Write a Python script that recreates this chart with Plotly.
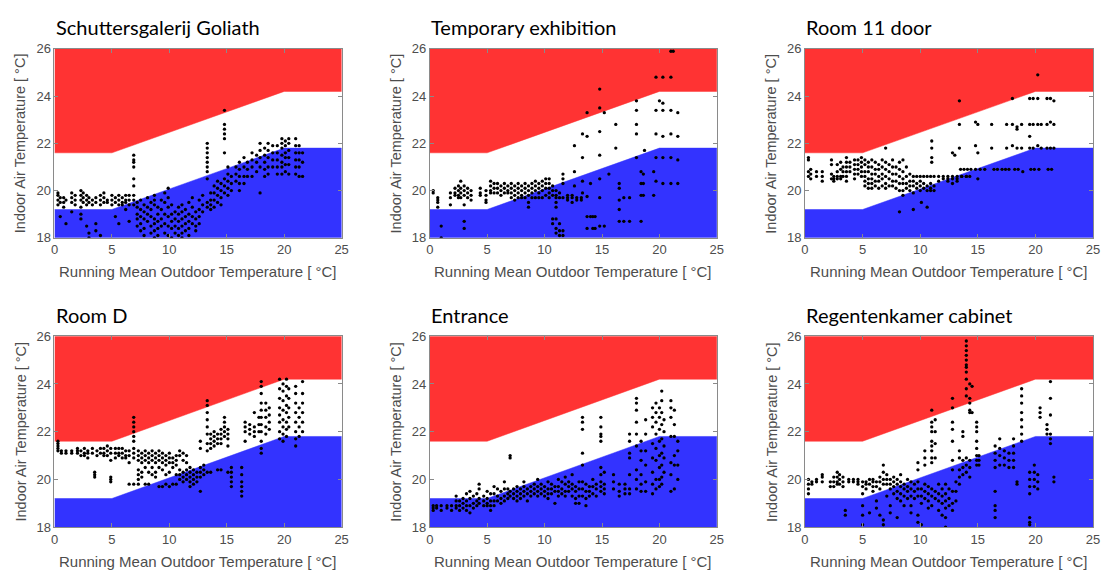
import plotly.graph_objects as go

# ---- comfort band limits (adaptive) ----
LIMIT_X = [0, 5, 20, 25]
UPPER = [21.6, 21.6, 24.2, 24.2]
LOWER = [19.2, 19.2, 21.8, 21.8]
X_TICKS = [0, 5, 10, 15, 20, 25]
Y_TICKS = [18, 20, 22, 24, 26]
TITLES = ["Schuttersgalerij Goliath", "Temporary exhibition", "Room 11 door",
          "Room D", "Entrance", "Regentenkamer cabinet"]
X_LABEL = "Running Mean Outdoor Temperature [ °C]"
Y_LABEL = "Indoor Air Temperature [ °C]"

# ---- measured points, as (running mean outdoor T, [indoor T values]) ----
goliath = [
    (0.3, [19.4, 19.6, 19.8, 19.9]), (0.5, [19.5, 19.7, 18.9]), (0.8, [19.3, 19.5, 19.7]),
    (1.0, [18.6, 19.6]), (1.5, [19.5, 19.7, 19.9, 19.1]), (1.8, [19.4, 19.6, 19.8]),
    (2.3, [19.6, 19.8, 20.0, 19.3, 19.0, 18.8]), (2.5, [19.5, 19.7, 19.9]),
    (2.8, [19.4, 19.6, 19.8, 18.5]), (3.0, [19.5, 19.7, 18.2, 18.0]), (3.3, [19.4, 19.6]),
    (3.6, [19.5, 19.7, 18.6, 18.3]), (4.0, [19.4, 19.6, 19.8, 18.1]), (4.3, [19.5, 19.7, 19.9]),
    (4.6, [19.5, 19.6]), (5.0, [19.4, 19.6, 19.8]), (5.3, [19.5, 19.7, 18.9]),
    (5.6, [19.4, 19.6, 19.8, 18.6]), (5.9, [19.5, 19.7, 19.4]), (6.2, [19.5, 19.6, 19.8, 19.2]),
    (6.5, [19.4, 19.6, 19.8, 18.7]),
    (6.9, [21.5, 21.3, 21.2, 21.0, 20.5, 20.2, 19.8, 19.6, 19.4]),
    (7.2, [19.5, 19.3, 19.0, 18.8, 18.5]), (7.5, [19.6, 19.2, 18.9, 18.6, 18.3]),
    (7.8, [19.4, 19.1, 18.8, 18.4, 18.1]), (8.1, [19.7, 19.3, 19.0, 18.7]),
    (8.4, [19.5, 19.2, 18.9, 18.5, 18.2]), (8.7, [19.8, 19.6, 19.4, 18.8, 18.6, 18.3, 18.0]),
    (9.0, [19.3, 19.0, 18.7, 18.4, 18.1]), (9.3, [19.6, 19.2, 18.8, 18.5]),
    (9.6, [19.9, 19.5, 19.0, 18.6, 18.2]), (9.9, [20.1, 19.7, 19.3, 18.9, 18.5, 18.1]),
    (10.2, [19.4, 19.0, 18.7, 18.4, 18.0]), (10.5, [19.1, 18.8, 18.5, 18.2]),
    (10.8, [19.3, 19.0, 18.7, 18.4, 18.1]), (11.1, [19.4, 19.1, 18.8, 18.5, 18.2, 18.0]),
    (11.4, [19.2, 18.9, 18.6, 18.3]), (11.7, [19.5, 19.0, 18.7, 18.4, 18.1]),
    (12.0, [19.7, 19.3, 18.9, 18.6]), (12.3, [19.1, 18.8, 18.5, 18.3]),
    (12.6, [19.6, 19.2, 18.9, 18.6]), (12.9, [19.8, 19.4, 19.1]),
    (13.3, [22.0, 21.8, 21.6, 21.4, 21.2, 21.0, 20.8, 20.5, 19.5, 19.3]),
    (13.6, [19.6, 19.4, 19.2, 19.9]), (13.9, [20.2, 19.9, 19.6, 19.3]),
    (14.2, [20.4, 20.1, 19.8, 19.5]), (14.5, [20.3, 20.0, 19.7, 19.4]),
    (14.8, [23.4, 22.8, 22.6, 22.4, 22.2, 21.6, 20.5, 20.2, 19.9]),
    (15.1, [21.0, 20.7, 20.4, 20.1, 19.8]), (15.4, [20.6, 20.3, 20.0]),
    (15.8, [21.0, 20.7, 20.4]), (16.1, [21.2, 20.9, 20.6, 20.3, 20.0]),
    (16.5, [21.4, 21.0, 20.6, 20.3]), (16.8, [21.2, 20.9, 20.6]),
    (17.2, [21.6, 21.3, 21.0, 20.6]), (17.6, [21.5, 21.2, 20.8]),
    (17.9, [22.0, 21.7, 21.4, 21.0, 19.9]), (18.3, [21.8, 21.5, 21.2, 20.9, 20.6]),
    (18.6, [22.0, 21.7, 21.4, 21.0, 20.7]), (19.0, [21.9, 21.6, 21.3, 21.0]),
    (19.4, [21.9, 21.6, 21.3, 21.0, 20.7]), (19.8, [22.2, 22.0, 21.8, 21.5, 21.2, 21.0, 20.7]),
    (20.1, [22.1, 21.9, 21.6, 21.4, 21.1, 20.8]), (20.4, [22.2, 22.0, 21.7, 21.4, 21.1, 20.7]),
    (21.0, [22.2, 21.9, 21.6, 21.3, 21.0, 20.7]), (21.3, [21.9, 21.6, 21.3, 21.0, 20.6]),
    (21.6, [21.6, 21.2, 20.6]),
]

temporary = [
    (0.3, [20.0, 19.9]), (0.7, [19.7, 19.6, 19.5, 19.3]), (1.0, [18.5, 18.0]),
    (1.8, [19.9, 19.7, 19.4]), (2.2, [20.1, 19.9, 19.8]), (2.5, [20.2, 20.0, 19.8, 19.7]),
    (2.7, [20.4, 20.1, 19.9, 19.7]), (3.0, [20.2, 20.0, 19.8, 19.4, 18.7, 18.4]),
    (3.3, [20.1, 19.9, 19.7]), (3.6, [20.0, 19.8, 19.6]), (4.4, [20.1, 19.9, 19.8]),
    (4.9, [20.0, 19.8, 19.6, 19.5]), (5.3, [20.4, 20.2, 20.0, 19.9]), (5.6, [20.3, 20.1, 19.9]),
    (5.9, [20.3, 20.1, 19.9]), (6.2, [20.2, 20.0, 19.8]), (6.5, [20.3, 20.1, 19.9]),
    (6.8, [20.2, 20.0, 19.9]), (7.1, [20.3, 20.1, 19.9, 19.7]), (7.4, [20.2, 20.0, 19.8, 19.6]),
    (7.7, [20.3, 20.1, 19.9, 19.7]), (8.0, [20.2, 20.0, 19.8, 19.7]),
    (8.3, [20.3, 20.1, 19.9, 19.7]), (8.6, [20.2, 20.0, 19.8, 19.5, 19.3]),
    (8.9, [20.3, 20.1, 19.9, 19.7]), (9.2, [20.4, 20.2, 20.0, 19.7]),
    (9.5, [20.3, 20.1, 19.9, 19.7]), (9.8, [20.4, 20.2, 20.0, 19.7]),
    (10.1, [20.5, 20.3, 20.1, 19.8]), (10.4, [20.5, 20.3, 20.1, 19.9, 19.7]),
    (10.7, [20.2, 20.0, 19.8, 18.8, 18.6]), (11.0, [20.0, 19.8, 19.7, 19.5, 19.3, 18.8, 18.4, 18.2]),
    (11.3, [19.9, 19.7, 18.6, 18.3, 18.1]), (11.6, [20.7, 20.5, 20.3, 19.7, 18.3, 18.1]),
    (12.0, [19.8, 19.7, 19.6]), (12.4, [19.8, 19.7, 19.5]), (12.8, [19.7, 19.6]),
    (13.2, [19.7, 19.6]),
    (12.6, [21.9, 20.8, 20.2]), (13.3, [22.4, 21.4, 20.4, 19.9]),
    (13.7, [23.3, 22.3, 19.75, 18.9, 18.4]), (14.0, [20.3, 18.9]), (14.2, [18.9, 18.4]),
    (14.4, [18.9, 18.4]), (14.8, [24.3, 23.5, 22.5, 21.5, 20.5, 19.7, 18.5]),
    (15.2, [23.3, 18.5]), (15.6, [20.7]), (16.2, [22.8, 21.8]),
    (16.5, [20.3, 20.1, 19.6, 19.2, 18.7]), (16.9, [19.7, 18.7]), (17.4, [19.7, 18.7]),
    (18.0, [23.8, 23.4, 22.8, 22.4, 21.4]), (18.4, [20.8, 20.3, 19.8, 18.7]),
    (18.6, [20.7, 20.3, 19.8]), (18.7, [21.7]), (19.5, [20.8, 19.8]),
    (19.7, [24.8, 23.4, 22.4, 21.4, 20.4]), (20.0, [23.8]),
    (20.3, [24.8, 23.7, 23.4, 22.3, 21.4, 20.3]), (21.0, [25.9, 24.8, 23.4, 22.4, 21.4, 20.3]),
    (21.2, [25.9]), (21.6, [23.3, 22.3, 21.3, 20.3]),
]

room11 = [
    (0.3, [21.4, 21.3, 20.8, 20.6]), (0.5, [20.9, 20.7, 20.5]), (1.0, [20.8, 20.6]),
    (1.5, [20.6, 20.4, 20.8]), (2.3, [21.3, 21.1, 20.7, 20.5]), (2.5, [20.6, 20.5, 20.4]),
    (2.8, [20.8, 20.6, 20.5, 21.1]), (3.1, [21.2, 20.9, 20.6, 20.5]), (3.3, [21.0, 20.8, 20.6]),
    (3.6, [21.4, 21.2, 21.0, 20.8, 20.6, 20.4]), (3.9, [21.2, 21.0, 20.8]),
    (4.3, [21.3, 21.1, 20.9, 20.7, 20.5]), (4.6, [21.3, 21.1, 20.9, 20.7]),
    (4.9, [21.4, 21.2, 21.0, 20.8, 20.6]), (5.2, [21.3, 21.1, 20.8, 20.6, 20.4, 20.2]),
    (5.5, [21.2, 21.0, 20.8, 20.5, 20.3, 20.1]), (5.8, [21.3, 21.0, 20.7, 20.5, 20.3, 20.1]),
    (6.1, [21.2, 20.9, 20.7, 20.4, 20.2]), (6.4, [21.1, 20.9, 20.6, 20.4, 20.1]),
    (6.7, [21.3, 21.0, 20.7, 20.5, 20.2]), (7.0, [21.8, 21.2, 20.9, 20.6, 20.3, 20.1]),
    (7.3, [21.1, 20.8, 20.5, 20.2]), (7.6, [21.3, 21.0, 20.7, 20.4, 20.2]),
    (7.9, [21.0, 20.7, 20.4, 20.1]), (8.2, [21.2, 20.9, 20.6, 20.3, 20.0, 19.1]),
    (8.5, [21.3, 20.8, 20.5, 20.3, 20.0, 19.8]), (8.8, [21.0, 20.6, 20.3, 20.1]),
    (9.1, [20.7, 20.4, 20.2, 20.0]), (9.4, [20.6, 20.4, 20.2, 19.9, 19.2]),
    (9.7, [20.6, 20.3, 20.1]), (10.0, [20.6, 20.4, 20.2, 20.0]), (10.1, [19.5]),
    (10.3, [20.6, 20.3, 20.1]), (10.6, [20.6, 20.2, 20.0, 19.3]),
    (10.9, [20.6, 20.3, 20.1, 20.0]), (11.0, [22.1, 21.8, 21.4, 21.2]),
    (11.2, [20.6, 20.2, 20.0]), (11.6, [20.6, 20.4]), (12.0, [20.6, 20.5]),
    (12.4, [20.6, 20.5, 20.4]), (12.8, [20.6, 20.5, 20.3, 21.6]), (13.0, [21.5]),
    (13.2, [20.6, 20.5, 20.4]), (13.6, [20.6, 20.6]), (14.0, [20.6, 20.6]), (14.3, [20.6]),
    (13.4, [23.8, 22.8, 21.8]), (14.8, [22.9, 21.9]), (15.0, [22.8, 21.6, 20.5]),
    (16.2, [22.8, 21.8]), (17.5, [22.8, 21.8]), (18.0, [23.9, 22.8, 21.9]),
    (18.4, [22.7, 22.6, 21.8]), (18.8, [22.8, 21.8]), (19.5, [23.9, 22.8, 22.3, 21.8]),
    (19.8, [23.9, 22.8, 21.8]), (20.2, [24.9, 23.9, 22.8, 21.9]), (20.5, [22.8, 21.8]),
    (21.0, [23.9, 22.8, 21.8]), (21.3, [23.9, 22.9, 21.8]), (21.6, [23.8, 22.8, 21.8]),
    (13.5, [20.9]), (13.8, [20.9]), (14.1, [20.9]), (14.4, [20.9]), (14.8, [20.9]),
    (15.2, [20.9]), (15.6, [20.9]), (16.4, [20.9]), (16.7, [20.9]), (17.1, [20.9]),
    (17.4, [20.9]), (17.7, [20.9]), (18.2, [20.9]), (18.5, [20.9]), (18.9, [20.8]),
    (19.6, [20.9]), (19.9, [20.9]), (20.3, [20.9]), (21.1, [20.9]), (21.4, [20.9]),
]

room_d = [
    (0.3, [21.6, 21.5, 21.4, 21.3, 21.2]), (0.6, [21.2, 21.1]), (1.0, [21.2, 21.1]),
    (1.5, [21.2, 21.1]), (2.0, [21.3, 21.2, 21.1]), (2.3, [21.2, 21.0]),
    (2.6, [21.3, 21.1, 21.0]), (2.9, [21.2, 21.1, 20.9]), (3.3, [21.3, 21.1]),
    (3.5, [20.3, 20.2, 20.1]), (3.7, [21.2, 21.0]), (4.0, [21.3, 21.1]),
    (4.3, [21.3, 21.1, 21.0]), (4.6, [21.4, 21.2, 21.0]),
    (4.9, [21.3, 21.1, 20.8, 20.1, 20.0, 19.9]), (5.3, [21.3, 21.1, 20.9]),
    (5.6, [21.3, 21.1, 21.0]), (5.9, [21.3, 21.1, 20.9]), (6.2, [21.2, 21.0, 20.9]),
    (6.5, [21.2, 21.0, 20.7, 19.8]),
    (6.9, [22.6, 22.4, 22.2, 22.0, 21.8, 21.6, 21.3, 21.1, 20.9, 19.8]),
    (7.3, [21.2, 21.0, 20.8, 20.4, 20.2, 20.0, 19.8]), (7.6, [21.1, 20.9, 20.7, 20.3, 20.1]),
    (7.9, [21.2, 21.0, 20.8, 20.5, 19.8]), (8.2, [21.1, 20.9, 20.7, 20.3, 19.8]),
    (8.5, [21.2, 21.0, 20.8, 20.5, 20.2]), (8.8, [21.1, 20.9, 20.7, 20.3, 20.1]),
    (9.1, [21.2, 21.0, 20.8, 20.5, 19.7]), (9.4, [21.1, 20.9, 20.7, 20.4, 19.7]),
    (9.7, [21.0, 20.8, 20.6, 20.2, 19.8]), (10.0, [21.1, 20.9, 20.7, 20.3, 19.7]),
    (10.3, [20.9, 20.7, 20.5, 19.8]), (10.6, [21.0, 20.8, 20.6, 20.2, 19.8]),
    (10.9, [21.2, 21.0, 20.4, 20.2, 20.0]), (11.2, [21.1, 20.8, 20.3, 20.1, 19.9]),
    (11.5, [21.0, 20.7, 20.4, 20.2, 20.0]), (11.8, [20.5, 20.3, 20.1, 19.9, 19.7]),
    (12.1, [20.4, 20.2, 20.0, 19.8]), (12.4, [20.3, 20.1, 19.9]),
    (12.7, [21.6, 21.3, 20.5, 20.3, 20.1, 19.5]), (13.0, [20.4, 20.2, 20.6]),
    (13.3, [23.3, 23.1, 22.8, 22.5, 22.2, 21.9, 21.5, 21.2, 20.3]),
    (13.6, [21.9, 21.7, 21.5, 21.3, 20.3]), (13.9, [22.0, 21.8, 21.6, 21.4]),
    (14.2, [21.9, 21.7, 21.5, 20.4]), (14.5, [22.1, 21.9, 21.7, 21.5, 20.4]),
    (14.8, [22.6, 22.4, 22.2, 22.0, 21.8]), (15.1, [22.1, 21.9, 21.7, 21.4, 20.3]),
    (15.4, [20.5, 20.3, 20.1, 19.9, 19.7]), (16.3, [20.5, 20.2, 19.9, 19.7, 19.5, 19.3]),
    (16.6, [22.4, 22.2, 22.0, 21.6]), (17.0, [22.3, 22.1, 21.9]),
    (17.4, [22.2, 22.0, 21.8, 22.8]), (17.8, [22.6, 22.3, 22.0]),
    (18.0, [24.1, 23.9, 23.6, 23.2, 22.9, 22.6, 22.3, 22.0, 21.6, 21.3, 21.1]),
    (18.4, [23.2, 22.9, 22.6, 22.2, 21.9]), (18.7, [23.0, 22.7, 22.4, 22.1]),
    (19.6, [24.2, 23.8, 23.4, 23.0, 22.7, 22.4, 22.0, 21.7]),
    (19.9, [24.0, 23.7, 23.3, 22.9, 22.5, 22.2, 21.9, 21.6]),
    (20.2, [24.2, 23.9, 23.5, 23.1, 22.8, 22.4, 22.1, 21.8]),
    (20.4, [23.8, 23.4, 23.0, 22.6, 22.2]),
    (21.0, [23.9, 23.6, 23.2, 22.8, 22.4, 22.0, 21.7, 21.4]),
    (21.3, [23.0, 22.6, 22.2, 21.8]), (21.6, [24.1, 23.6, 23.2, 22.8, 22.4, 22.0]),
]

entrance = [
    (0.3, [18.9, 18.8, 18.7]), (0.6, [18.9, 18.8]), (1.0, [18.9, 18.7]), (1.5, [18.9, 18.8]),
    (1.9, [18.9, 18.7]), (2.3, [19.3, 19.1, 18.9, 18.8]), (2.6, [19.1, 18.9, 18.7]),
    (2.9, [19.2, 19.0, 18.8]), (3.2, [19.4, 19.1, 18.9, 18.7]), (3.5, [19.5, 19.2, 18.9, 18.6]),
    (3.8, [19.3, 19.0, 18.8]), (4.1, [19.4, 19.1, 18.9]), (4.3, [19.8, 19.6, 19.2, 19.0]),
    (4.7, [19.3, 19.1, 18.9]), (5.0, [19.5, 19.2, 19.0, 18.9]), (5.3, [19.4, 19.1, 18.9, 18.7]),
    (5.6, [19.7, 19.4, 19.1, 18.9]), (5.9, [19.6, 19.3, 19.1]), (6.2, [19.5, 19.2, 19.0]),
    (6.5, [19.9, 19.6, 19.3, 19.1]), (6.8, [19.6, 19.4, 19.2]), (7.0, [21.0, 20.9, 19.5, 19.3]),
    (7.3, [19.6, 19.4, 19.2]), (7.6, [19.7, 19.5, 19.3, 19.1]), (7.9, [19.6, 19.4, 19.2]),
    (8.2, [19.9, 19.7, 19.5, 19.3]), (8.5, [19.6, 19.4, 19.1]), (8.8, [19.7, 19.5, 19.3]),
    (9.1, [19.8, 19.6, 19.4]), (9.4, [20.0, 19.7, 19.5, 19.3]), (9.7, [19.8, 19.6, 19.4]),
    (10.0, [19.7, 19.5, 19.3]), (10.3, [19.9, 19.6, 19.4, 19.2]), (10.6, [19.8, 19.6, 19.4]),
    (10.9, [19.7, 19.5, 19.0]), (11.2, [20.0, 19.7, 19.5, 19.3]), (11.5, [19.9, 19.6, 19.4]),
    (11.8, [20.1, 19.8, 19.5, 19.3]), (12.1, [19.9, 19.7, 19.5]),
    (12.4, [20.2, 19.8, 19.6, 19.3]), (12.7, [19.7, 19.5, 19.2, 19.0]),
    (13.0, [19.9, 19.6, 19.3, 19.0]), (13.3, [22.6, 22.4, 22.1, 21.1, 20.6, 19.9, 19.6, 19.3]),
    (13.6, [19.8, 19.5, 19.2, 18.9]), (13.9, [19.7, 19.5, 19.3]), (14.2, [20.0, 19.7, 19.4]),
    (14.5, [19.8, 19.6, 19.3]),
    (14.9, [22.6, 22.2, 21.9, 21.8, 21.6, 20.5, 20.2, 19.9, 19.7, 19.5]),
    (15.2, [20.3, 19.8, 19.6, 19.4]), (16.0, [20.2, 19.9, 19.6]), (16.5, [19.8, 19.5, 19.3]),
    (17.0, [19.8, 19.6, 19.4]), (17.4, [21.9, 21.6, 21.1, 20.9, 20.2, 19.6, 19.4]),
    (18.0, [23.4, 23.2, 22.9, 22.4, 21.9, 21.4, 20.4, 20.0, 19.6]),
    (18.4, [21.6, 21.2, 20.8, 20.2, 19.8, 19.5]), (18.8, [22.5, 21.9, 21.2, 20.6, 19.9, 19.5]),
    (19.4, [23.0, 22.6, 22.2, 21.5, 20.9, 20.3, 19.8, 19.4]),
    (19.7, [23.2, 22.8, 22.4, 21.9, 21.3, 20.8, 20.0, 19.6]),
    (20.0, [23.0, 22.6, 22.1, 21.6, 21.0, 20.5, 20.0, 19.7]),
    (20.2, [23.7, 23.3, 22.8, 22.3, 21.7, 21.1, 20.6, 20.1, 19.8]),
    (20.4, [22.5, 22.0, 21.4, 20.9, 20.3]), (21.0, [23.3, 23.0, 22.6, 21.8, 20.7, 20.2, 19.5]),
    (21.3, [22.9, 22.3, 21.8, 21.0, 20.6, 19.6]), (21.6, [21.6, 21.2, 20.6, 20.0]),
]

regenten = [
    (0.3, [20.0, 19.8, 19.6, 19.4]), (0.6, [19.9, 19.8]), (1.0, [19.9, 20.0]),
    (1.5, [19.9, 20.1, 20.2]), (2.2, [19.9, 19.7]), (2.5, [20.1, 19.9, 19.7]),
    (2.8, [20.3, 20.1, 19.9, 19.8]), (3.0, [20.2, 20.0, 19.8]), (3.3, [20.1, 19.9, 19.7]),
    (3.5, [18.7, 18.5]), (3.8, [20.0, 19.9]), (4.2, [19.9, 20.0]), (4.6, [20.0, 19.9, 19.8]),
    (5.0, [19.9, 19.7, 19.4, 18.9, 18.5, 18.1]), (5.3, [19.9, 19.8, 19.6]),
    (5.6, [20.0, 19.8, 18.6]), (5.9, [20.0, 19.9, 19.7, 19.5]), (6.2, [19.9, 19.7, 19.1, 18.8]),
    (6.5, [20.1, 19.9, 19.6, 18.5]), (6.8, [20.6, 20.3, 20.0, 19.8, 18.3, 18.1]),
    (7.1, [20.2, 20.0, 19.8, 19.3]), (7.4, [20.0, 19.8, 19.6, 18.9, 18.6]),
    (7.7, [20.1, 19.9, 19.7, 19.4]), (8.0, [20.0, 19.8, 19.5, 19.2, 18.4]),
    (8.3, [20.2, 19.9, 19.7, 19.4, 19.1]), (8.6, [19.8, 19.6, 19.3, 18.9]),
    (8.9, [20.0, 19.7, 19.5, 19.2]), (9.2, [19.9, 19.6, 19.3, 18.9, 18.6]),
    (9.5, [19.8, 19.5, 19.2]), (9.8, [20.7, 20.4, 19.9, 19.6, 19.3, 18.5, 18.2]),
    (10.1, [19.6, 19.3, 19.0, 18.1]), (10.4, [21.2, 20.9, 20.6, 19.8, 19.5, 19.2]),
    (10.7, [19.7, 19.4, 19.1, 18.8]),
    (11.0, [22.9, 22.4, 22.2, 22.0, 21.6, 21.4, 21.2, 20.9, 20.7, 19.6, 19.3, 18.9]),
    (11.3, [22.5, 22.0, 21.5, 20.9, 19.5, 19.2]), (11.6, [19.8, 19.4, 19.1, 18.7]),
    (11.9, [19.6, 19.3, 19.0, 18.5]), (12.2, [19.8, 19.4, 19.1, 18.8, 18.4, 18.0]),
    (12.5, [19.6, 19.2, 18.9]),
    (12.8, [23.4, 23.0, 22.4, 22.1, 21.6, 20.8, 20.4, 19.5, 19.0, 18.7]),
    (13.1, [19.9, 19.5, 19.1]), (13.4, [21.2, 20.9, 20.4, 20.1, 19.8]),
    (13.7, [22.0, 21.8, 20.8, 20.5, 20.2]),
    (14.0, [25.8, 25.6, 25.4, 25.2, 25.0, 24.8, 24.7, 24.5, 24.2, 23.8, 23.5, 20.9, 20.6, 20.3]),
    (14.3, [24.0, 23.4, 23.2, 22.9, 22.8, 20.8, 20.5, 20.1]), (14.5, [23.9, 22.8]),
    (14.9, [22.4, 22.2, 22.0, 21.6, 21.3, 21.0, 20.8, 20.6]), (15.1, [21.0, 20.8, 20.6]),
    (16.5, [21.4, 21.1, 20.8, 20.5, 19.5, 18.9, 18.7, 18.4]), (16.9, [21.7, 21.3, 21.0, 20.6]),
    (17.3, [21.2, 20.9, 20.6]), (17.7, [21.1, 20.8, 20.5]), (18.1, [21.7, 21.4, 21.1, 20.8, 20.5]),
    (18.4, [19.8, 19.9]), (18.8, [23.8, 23.5, 23.2, 22.8, 22.5, 22.2, 21.9, 21.6]),
    (19.5, [20.3, 20.0, 19.7, 19.4, 18.4, 18.2, 18.1]), (19.9, [20.6, 20.3, 20.0, 19.7]),
    (20.2, [20.2, 19.9, 19.6]), (20.4, [23.0, 22.8, 22.6]), (21.0, [22.3, 22.1, 21.9]),
    (21.3, [24.1, 23.4, 22.7, 21.9, 21.7, 21.5]), (21.6, [20.1, 19.9]),
]

PANELS = [goliath, temporary, room11, room_d, entrance, regenten]

RED = "#ff3333"
BLUE = "#3333ff"
W, H = 1109, 578
LEFTS = [51, 430, 809]            # target screen pixels
RIGHTS = [341, 720, 1100]
TOPS = [43, 338]
BOTTOMS = [237, 534]


def px(v):
    return v / W


def py(v):
    return 1 - v / H


fig = go.Figure()
annotations = []
label_font = "Liberation Sans, Arial, sans-serif"
axis_font = dict(family=label_font, size=13, color="#4d4d4d")

for i, cols in enumerate(PANELS):
    r, c = divmod(i, 3)
    n = "" if i == 0 else str(i + 1)
    xa, ya = "x" + n, "y" + n
    common = dict(xaxis=xa, yaxis=ya, hoverinfo="skip", showlegend=False)
    fig.add_trace(go.Scatter(x=LIMIT_X + [LIMIT_X[-1], LIMIT_X[0]], y=UPPER + [26, 26],
                             fill="toself", fillcolor=RED, mode="lines",
                             line=dict(width=0.5, color=RED), **common))
    fig.add_trace(go.Scatter(x=LIMIT_X + [LIMIT_X[-1], LIMIT_X[0]], y=LOWER + [18, 18],
                             fill="toself", fillcolor=BLUE, mode="lines",
                             line=dict(width=0.5, color=BLUE), **common))
    xs = [x for x, ys in cols for _ in ys]
    yv = [y for _, ys in cols for y in ys]
    fig.add_trace(go.Scatter(x=xs, y=yv, mode="markers",
                             marker=dict(color="black", size=3.3, line=dict(width=0)), **common))

    l, rr, t, b = LEFTS[c], RIGHTS[c], TOPS[r], BOTTOMS[r]
    ax = dict(showgrid=False, zeroline=False, showline=True, linecolor="#8a8a8a", linewidth=1,
              mirror="ticks", ticks="inside", ticklen=4, tickcolor="#8a8a8a",
              tickfont=axis_font, fixedrange=True)
    fig.layout["xaxis" + n] = dict(ax, domain=[px(l), px(rr)], range=[0, 25], tickvals=X_TICKS,
                                   anchor=ya)
    fig.layout["yaxis" + n] = dict(ax, domain=[py(b), py(t)], range=[18, 26],
                                   tickvals=Y_TICKS, anchor=xa)
    annotations.append(dict(text=TITLES[i], x=px(l - 1), y=py(t - 22), xref="paper",
                            yref="paper", xanchor="left", yanchor="middle", showarrow=False,
                            font=dict(family="Lato, Open Sans, sans-serif", size=20, color="black")))
    annotations.append(dict(text=X_LABEL, x=px((l + rr) / 2), y=py(b + 35), xref="paper",
                            yref="paper", xanchor="center", yanchor="middle", showarrow=False,
                            font=dict(family=label_font, size=15, color="#4d4d4d")))
    annotations.append(dict(text=Y_LABEL, x=px(l - 34), y=py((t + b) / 2), xref="paper",
                            yref="paper", xanchor="center", yanchor="middle", textangle=-90,
                            showarrow=False,
                            font=dict(family=label_font, size=14.5, color="#4d4d4d")))

fig.update_layout(width=W, height=H, margin=dict(l=0, r=0, t=0, b=0),
                  paper_bgcolor="white", plot_bgcolor="white", annotations=annotations,
                  hovermode=False)

# remove the browser's default page margin so the figure sits at the window origin
fig.write_html("out.html", config={"displayModeBar": False, "staticPlot": True},
               post_script="document.body.style.margin='0';document.body.style.padding='0';")
